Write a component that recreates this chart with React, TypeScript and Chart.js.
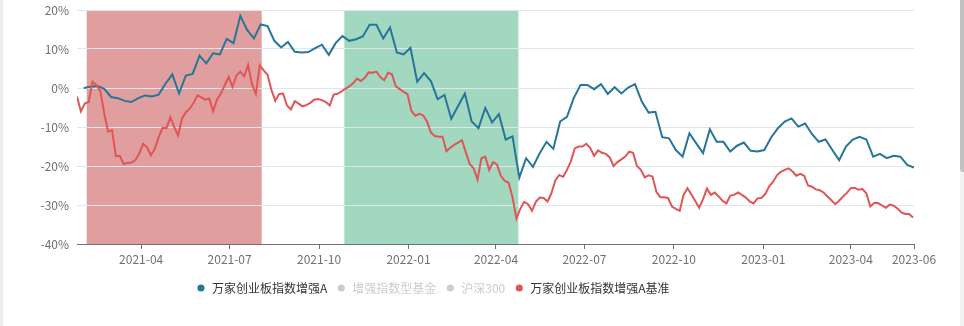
import { useEffect, useRef } from 'react';
import { Chart, registerables } from 'chart.js';

Chart.register(...registerables);

// ---------- data ----------
const axisStart = '2021-01-25';
const axisEnd = '2023-06-05';
const fundStart = '2021-02-01'; // weekly NAV
const fundStepDays = 7;
const benchStart = '2021-01-25'; // benchmark sampled every 4 days
const benchStepDays = 4;

const seriesNames = ['万家创业板指数增强A', '增强指数型基金', '沪深300', '万家创业板指数增强A基准'];
const seriesColors = ['#257698', '#cccccc', '#cccccc', '#e05656'];
const seriesActive = [true, false, false, true];

const fundValues = [
  0.0, 0.3, 0.5, -0.2, -2.3, -2.6, -3.3, -3.6, -2.6, -1.9,
  -2.2, -1.7, 1.1, 3.5, -1.4, 3.2, 3.6, 8.3, 6.3, 8.9,
  8.6, 12.6, 11.5, 18.5, 14.9, 12.7, 16.3, 15.9, 12.1, 10.4,
  11.8, 9.3, 9.1, 9.2, 10.2, 11.1, 8.5, 11.5, 13.3, 12.1,
  12.5, 13.2, 16.2, 16.2, 12.7, 15.5, 9.1, 8.6, 10.3, 1.6,
  3.8, 1.8, -2.9, -1.8, -7.9, -4.6, -1.4, -8.6, -10.3, -5.1,
  -8.8, -6.7, -13.2, -12.4, -23.0, -18.0, -20.2, -16.7, -13.8, -15.6,
  -8.6, -7.4, -2.6, 0.8, 0.8, -0.3, 1.0, -1.5, 0.2, -1.4,
  0.1, 1.0, -3.5, -6.3, -6.1, -12.6, -12.9, -15.9, -17.6, -11.6,
  -14.2, -16.7, -10.6, -13.8, -13.8, -16.3, -14.8, -14.0, -16.1, -16.3,
  -15.9, -12.7, -10.3, -8.6, -7.8, -9.9, -9.1, -11.8, -13.8, -13.2,
  -15.9, -18.5, -15.0, -13.2, -12.5, -13.2, -17.6, -16.9, -18.0, -17.4,
  -17.6, -19.7, -20.4,
];

const benchValues = [
  -2.2, -6.0, -4.0, -3.6, 1.6, 0.8, -0.8, -6.5, -11.2, -10.8,
  -17.5, -17.4, -19.5, -19.2, -19.1, -18.5, -16.8, -14.3, -15.2, -17.2,
  -15.6, -12.6, -10.2, -10.3, -7.5, -10.0, -12.2, -7.8, -6.2, -5.3,
  -3.8, -1.9, -2.4, -3.0, -2.7, -6.0, -3.0, -1.4, 0.7, 2.8,
  0.3, 3.2, 4.2, 3.0, 5.9, 1.0, -1.5, 5.8, 4.5, 3.4,
  -0.5, -3.3, -1.5, -1.4, -4.5, -5.5, -3.4, -4.0, -4.7, -4.4,
  -3.8, -3.0, -2.8, -3.1, -3.6, -4.5, -1.7, -1.5, -0.9, -0.2,
  0.4, 1.2, 2.4, 1.8, 2.6, 4.0, 3.9, 4.2, 2.8, 2.0,
  3.9, 3.5, 0.4, -0.3, -1.0, -1.6, -5.9, -7.1, -6.6, -7.0,
  -8.6, -11.4, -12.3, -12.5, -12.5, -16.2, -15.3, -14.6, -14.0, -13.4,
  -16.5, -19.5, -20.6, -23.5, -18.0, -17.6, -21.0, -19.0, -19.6, -22.5,
  -23.8, -24.3, -28.0, -33.5, -31.0, -29.2, -29.8, -31.5, -29.2, -28.1,
  -28.2, -29.1, -27.0, -23.7, -22.3, -22.8, -21.0, -18.8, -15.5, -15.0,
  -15.0, -14.3, -15.4, -17.4, -16.0, -16.6, -16.9, -17.8, -20.0, -19.0,
  -18.3, -17.6, -16.3, -16.6, -20.0, -21.0, -22.9, -22.4, -22.7, -26.6,
  -28.0, -28.0, -28.2, -30.4, -31.0, -31.5, -27.4, -25.7, -27.3, -29.0,
  -30.7, -28.5, -25.8, -27.4, -26.8, -27.8, -28.9, -29.6, -27.6, -27.4,
  -26.8, -27.4, -28.1, -29.1, -29.6, -28.3, -28.2, -27.2, -25.2, -24.1,
  -22.4, -21.5, -21.0, -20.6, -21.4, -22.5, -22.0, -22.5, -25.0, -25.3,
  -26.0, -26.2, -26.8, -27.8, -28.8, -29.8, -28.9, -27.8, -26.9, -25.7,
  -25.6, -26.1, -25.9, -27.0, -30.4, -29.5, -29.5, -30.1, -30.7, -29.9,
  -30.2, -30.9, -31.9, -32.3, -32.3, -33.2,
];

const xTickDates = [
  '2021-04-01', '2021-07-01', '2021-10-01', '2022-01-01', '2022-04-01',
  '2022-07-01', '2022-10-01', '2023-01-01', '2023-04-01', '2023-06-05',
];
const yTickValues = [-40, -30, -20, -10, 0, 10, 20];

const bandStarts = ['2021-02-04', '2021-10-27'];
const bandEnds = ['2021-08-03', '2022-04-24'];
const bandColors = ['rgb(224,158,158)', 'rgb(162,216,191)'];

// ---------- helpers ----------
const DAY = 86400000;
const ms = (d: string) => Date.parse(d + 'T00:00:00Z');
const fmtMonth = (v: number) => {
  const d = new Date(v);
  const m = d.getUTCMonth() + 1;
  return d.getUTCFullYear() + '-' + (m < 10 ? '0' + m : String(m));
};

const fundPoints = fundValues.map((y, i) => ({ x: ms(fundStart) + i * fundStepDays * DAY, y }));
const benchPoints = benchValues.map((y, i) => ({ x: ms(benchStart) + i * benchStepDays * DAY, y }));

const bandPlugin = {
  id: 'bands',
  beforeDraw(chart: any) {
    const { ctx, chartArea, scales } = chart;
    const x = scales.x;
    ctx.save();
    bandStarts.forEach((s, i) => {
      const x0 = x.getPixelForValue(ms(s));
      const x1 = x.getPixelForValue(ms(bandEnds[i]));
      ctx.fillStyle = bandColors[i];
      ctx.fillRect(x0, chartArea.top, x1 - x0, chartArea.bottom - chartArea.top);
    });
    ctx.restore();
  },
};

const legendPlacer = {
  id: 'legendPlacer',
  afterLayout(chart: any) {
    const lg = chart.legend;
    if (!lg) return;
    const w = lg.width;
    const h = lg.height;
    lg.left = 187;
    lg.right = lg.left + w;
    lg.top = 273;
    lg.bottom = lg.top + h;
  },
};

export default function App() {
  const ref = useRef<HTMLCanvasElement | null>(null);

  useEffect(() => {
    if (!ref.current) return;
    const font = { family: '"Microsoft YaHei", "Noto Sans CJK SC", sans-serif', size: 12 };
    const chart = new Chart(ref.current, {
      type: 'line',
      data: {
        datasets: [
          {
            label: seriesNames[0],
            data: fundPoints,
            borderColor: seriesColors[0],
            backgroundColor: seriesColors[0],
            borderWidth: 2,
            pointRadius: 0,
            tension: 0,
            order: 1,
          },
          { label: seriesNames[1], data: [], hidden: true, borderColor: seriesColors[1], order: 2 },
          { label: seriesNames[2], data: [], hidden: true, borderColor: seriesColors[2], order: 3 },
          {
            label: seriesNames[3],
            data: benchPoints,
            borderColor: seriesColors[3],
            backgroundColor: seriesColors[3],
            borderWidth: 2,
            pointRadius: 0,
            tension: 0,
            order: 0,
          },
        ],
      },
      options: {
        animation: false,
        responsive: true,
        maintainAspectRatio: false,
        events: [],
        layout: { padding: { top: 10, right: 50, bottom: 21, left: 0 } },
        plugins: {
          tooltip: { enabled: false },
          legend: {
            position: 'bottom',
            align: 'start',
            onClick: () => {},
            labels: {
              usePointStyle: true,
              boxWidth: 10,
              boxHeight: 5,
              padding: 9,
              font,
              generateLabels: (c: any) =>
                c.data.datasets.map((ds: any, i: number) => {
                  const col = seriesActive[i] ? seriesColors[i] : '#cccccc';
                  return {
                    text: ds.label,
                    fillStyle: col,
                    strokeStyle: col,
                    lineWidth: 0,
                    pointStyle: 'circle',
                    hidden: false,
                    fontColor: seriesActive[i] ? '#333333' : '#cccccc',
                    datasetIndex: i,
                  };
                }),
            },
          },
        },
        scales: {
          x: {
            type: 'linear',
            min: ms(axisStart),
            max: ms(axisEnd),
            afterBuildTicks: (s: any) => {
              s.ticks = xTickDates.map((d) => ({ value: ms(d) }));
            },
            afterFit: (s: any) => {
              s.height = 30;
              s.paddingLeft = 0;
              s.paddingRight = 0;
            },
            ticks: {
              callback: (v: any) => fmtMonth(Number(v)),
              autoSkip: false,
              maxRotation: 0,
              padding: 3,
              color: '#6E7079',
              font,
            },
            grid: { drawOnChartArea: false, drawTicks: true, tickLength: 5, color: '#6E7079' },
            border: { display: true, color: '#6E7079' },
          },
          y: {
            min: -40,
            max: 20,
            afterBuildTicks: (s: any) => {
              s.ticks = yTickValues.map((v) => ({ value: v }));
            },
            afterFit: (s: any) => {
              s.width = 77;
              s.paddingTop = 0;
              s.paddingBottom = 0;
            },
            ticks: {
              callback: (v: any) => v + '%',
              padding: 8,
              color: '#6E7079',
              font,
            },
            grid: { color: '#E0E6F1', drawTicks: false },
            border: { display: false },
          },
        },
      },
      plugins: [bandPlugin, legendPlacer],
    } as any);
    return () => chart.destroy();
  }, []);

  return (
    <div style={{ position: 'absolute', left: 0, top: 0, width: 964, height: 326, background: '#fff', overflow: 'hidden' }}>
      <canvas ref={ref} />
      <div style={{ position: 'absolute', left: 0, top: 0, width: 3, height: 326, background: '#ececec' }} />
      <div style={{ position: 'absolute', left: 960, top: 0, width: 4, height: 326, background: '#f1f1f1' }} />
      <div style={{ position: 'absolute', left: 960, top: 0, width: 4, height: 172, background: '#c1c1c1', borderBottomLeftRadius: 3 }} />
    </div>
  );
}
